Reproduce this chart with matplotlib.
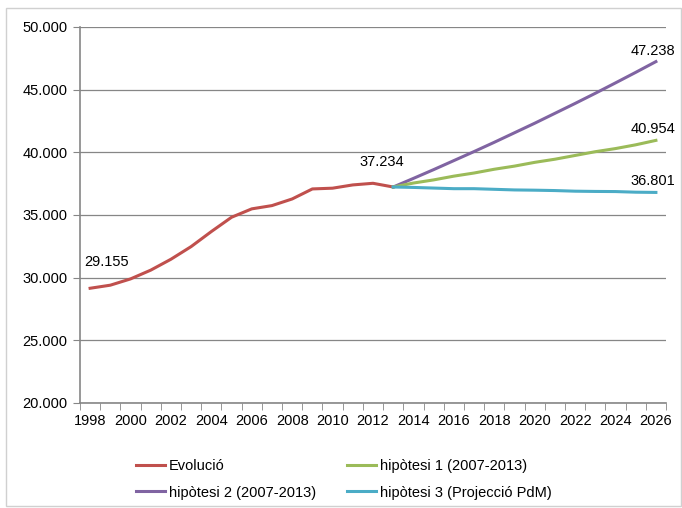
import matplotlib
matplotlib.use("Agg")
import matplotlib.pyplot as plt
from matplotlib.patches import Rectangle

plt.rcParams['font.family'] = ['Liberation Sans Narrow', 'Liberation Sans', 'DejaVu Sans']

# --- dades ---
anys_evol = list(range(1998, 2014))
evolucio = [29155, 29400, 29900, 30600, 31470, 32480, 33680, 34820,
            35490, 35750, 36280, 37080, 37140, 37400, 37530, 37234]

anys_proj = list(range(2013, 2027))
hipotesi1 = [37234, 37550, 37800, 38100, 38350, 38650, 38900, 39200,
             39450, 39750, 40050, 40300, 40600, 40954]
hipotesi2 = [37234, 37920, 38620, 39340, 40060, 40800, 41560, 42320,
             43110, 43900, 44710, 45540, 46380, 47238]
hipotesi3 = [37234, 37200, 37150, 37100, 37100, 37050, 37000, 36980,
             36950, 36900, 36880, 36870, 36820, 36801]

etiquetes = ['Evolució', 'hipòtesi 1 (2007-2013)',
             'hipòtesi 2 (2007-2013)', 'hipòtesi 3 (Projecció PdM)']
colors = ['#C0504D', '#9BBB59', '#8064A2', '#4BACC6']

def fmt(v):
    return f"{v:,}".replace(',', '.')

fig = plt.figure(figsize=(6.82, 5.08), dpi=100)
fig.patches.append(Rectangle((6 / 682, 2 / 508), 675 / 682, 498 / 508,
                             transform=fig.transFigure, fill=False,
                             edgecolor='#D0D0D0', linewidth=1))
ax = fig.add_axes([80 / 682, 1 - 403 / 508, 586 / 682, 376 / 508])

l0, = ax.plot(anys_evol, evolucio, color=colors[0], lw=2.2, zorder=3)
l2, = ax.plot(anys_proj, hipotesi2, color=colors[2], lw=2.2, zorder=3)
l1, = ax.plot(anys_proj, hipotesi1, color=colors[1], lw=2.2, zorder=3)
l3, = ax.plot(anys_proj, hipotesi3, color=colors[3], lw=2.2, zorder=3)

ax.set_xlim(1997.5, 2026.5)
ax.set_ylim(20000, 50000)
ax.set_yticks(range(20000, 50001, 5000))
ax.set_yticklabels([fmt(v) for v in range(20000, 50001, 5000)])
ax.set_xticks(range(1998, 2027, 2))
ax.set_xticks([1997.5 + k for k in range(30)], minor=True)
ax.tick_params(axis='x', which='major', length=0, pad=8, labelsize=10.5)
ax.tick_params(axis='x', which='minor', length=5, color='#868686')
ax.tick_params(axis='y', length=5, color='#868686', labelsize=10.5, pad=4)
ax.grid(axis='y', color='#868686', lw=0.9)
for s in ['top', 'right']:
    ax.spines[s].set_visible(False)
for s in ['left', 'bottom']:
    ax.spines[s].set_color('#868686')
    ax.spines[s].set_linewidth(1.2)

# etiquetes de valors
ax.annotate(fmt(evolucio[0]), (anys_evol[0], evolucio[0]), xytext=(-4, 16),
            textcoords='offset points', fontsize=10.5)
ax.annotate(fmt(evolucio[-1]), (anys_evol[-1], evolucio[-1]), xytext=(-24, 15),
            textcoords='offset points', fontsize=10.5)
for serie in [hipotesi2, hipotesi1, hipotesi3]:
    ax.annotate(fmt(serie[-1]), (anys_proj[-1], serie[-1]), xytext=(-18, 5),
                textcoords='offset points', fontsize=10.5)

# la llegenda s'omple per columnes: ordre per obtenir files com a l'original
fig.legend([l0, l2, l1, l3], [etiquetes[0], etiquetes[2], etiquetes[1], etiquetes[3]],
           ncol=2, loc='upper left',
           bbox_to_anchor=(123 / 682, 1 - 446 / 508), frameon=False,
           fontsize=10.5, handlelength=2.0, handletextpad=0.25,
           columnspacing=2.1, labelspacing=0.85)

fig.savefig('out.png', dpi=100)
